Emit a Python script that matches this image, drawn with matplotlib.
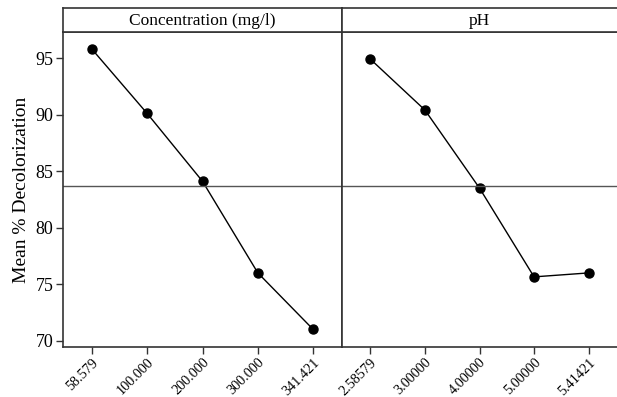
import matplotlib
matplotlib.use("Agg")
import matplotlib.pyplot as plt

plt.rcParams['font.family'] = ['Liberation Serif', 'DejaVu Serif']

conc_labels = ["58.579", "100.000", "200.000", "300.000", "341.421"]
conc_means = [95.8, 90.1, 84.1, 76.0, 71.0]
ph_labels = ["2.58579", "3.00000", "4.00000", "5.00000", "5.41421"]
ph_means = [94.9, 90.4, 83.5, 75.65, 76.0]
grand_mean = 83.7
panel_titles = ["Concentration (mg/l)", "pH"]
ylabel = "Mean % Decolorization"

W, H = 617, 397
fig = plt.figure(figsize=(W / 100, H / 100), dpi=100)

def fx(px):
    return px / W

def fy(py):
    return 1 - py / H

left, mid, right = 63, 342, 617
top_hdr, top_plot, bottom = 8, 32, 347
edge = "#333333"

ax1 = fig.add_axes([fx(left), fy(bottom), fx(mid - left), fy(top_plot) - fy(bottom)])
ax2 = fig.add_axes([fx(mid), fy(bottom), fx(right - mid), fy(top_plot) - fy(bottom)], sharey=ax1)

for ax, labels, vals in [(ax1, conc_labels, conc_means), (ax2, ph_labels, ph_means)]:
    xs = list(range(len(vals)))
    ax.plot(xs, vals, color="black", lw=1.0, marker="o", ms=6.5, mfc="black", mec="black")
    ax.axhline(grand_mean, color="#555555", lw=1.0)
    ax.set_xlim(-0.52, 4.52)
    ax.set_xticks(xs)
    ax.set_xticklabels(labels, rotation=45, ha="right", rotation_mode="anchor", fontsize=10.3)
    ax.tick_params(axis="x", direction="out", length=5, width=1, color=edge, pad=1.5)
    for s in ax.spines.values():
        s.set_color(edge)
        s.set_linewidth(1.2)
ax2.spines["right"].set_visible(False)

ax1.set_ylim(69.45, 97.3)
ax1.set_yticks([70, 75, 80, 85, 90, 95])
ax1.tick_params(axis="y", direction="out", length=5, width=1, color=edge, labelsize=13, pad=2)
ax1.set_ylabel(ylabel, fontsize=14, labelpad=4)
ax2.tick_params(axis="y", left=False, labelleft=False)

for (x0, x1), title in zip([(left, mid), (mid, right)], panel_titles):
    hax = fig.add_axes([fx(x0), fy(top_plot), fx(x1 - x0), fy(top_hdr) - fy(top_plot)])
    hax.set_xticks([])
    hax.set_yticks([])
    for s in hax.spines.values():
        s.set_color(edge)
        s.set_linewidth(1.2)
    if x1 == right:
        hax.spines["right"].set_visible(False)
    hax.text(0.5, 0.45, title, ha="center", va="center", fontsize=12.5, transform=hax.transAxes)

fig.savefig("out.png", dpi=100)
